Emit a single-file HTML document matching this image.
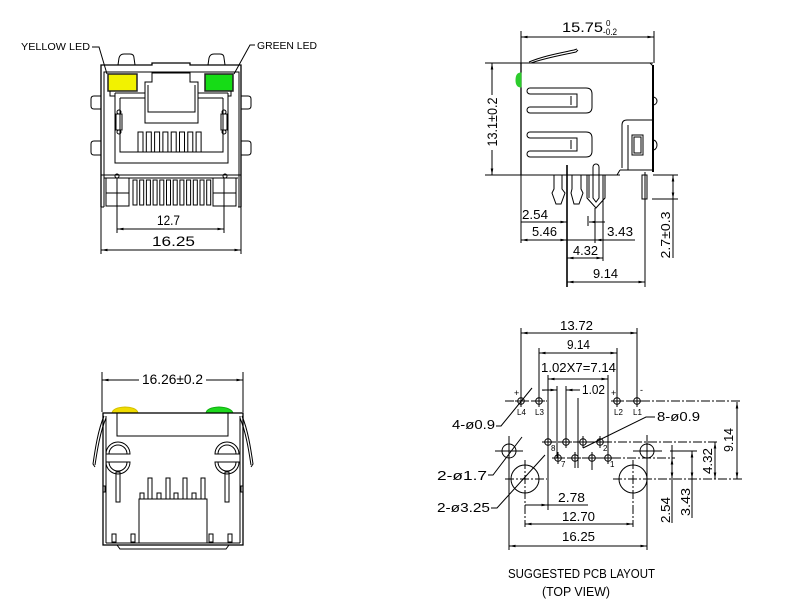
<!DOCTYPE html>
<html><head><meta charset="utf-8"><style>
html,body{margin:0;padding:0;background:#fff;}
svg{display:block}
text{font-family:"Liberation Sans",sans-serif;fill:#000;stroke:none}
</style></head><body>
<svg width="788" height="615" viewBox="0 0 788 615" xmlns="http://www.w3.org/2000/svg">
<defs>
<marker id="a" viewBox="0 0 10 4" refX="10" refY="2" markerWidth="7" markerHeight="2.6" markerUnits="userSpaceOnUse" orient="auto-start-reverse"><path d="M0,0L10,2L0,4z" fill="#000"/></marker>
</defs>
<rect width="788" height="615" fill="#fff"/>

<!-- ============ FRONT VIEW (top-left) ============ -->
<g fill="none" stroke="#000" stroke-width="1">
<polyline points="92,47 99,47 107,74"/>
<polyline points="255,45 250,45 234,74"/>
<path d="M118,65 L119,58 Q120,54 124,54 H130 Q134,54 134,58 L135,65"/>
<path d="M208,65 L209,58 Q210,54 214,54 H220 Q224,54 224,58 L225,65"/>
<path d="M101,207 V65 H152 V63 H190 V65 H241 V207" stroke-width="1.3"/>
<path d="M104,207 V72 H239 V207"/>
<path d="M101,207 H104 M238,207 H241"/>
<path d="M101,96 H94 Q91,96 91,99 V106 Q91,109 94,109 H101"/>
<path d="M101,141 H94 Q91,141 91,144 V152 Q91,155 94,155 H101"/>
<path d="M241,96 H248 Q251,96 251,99 V106 Q251,109 248,109 H241"/>
<path d="M241,141 H248 Q251,141 251,144 V152 Q251,155 248,155 H241"/>
<rect x="108" y="74" width="29" height="17" fill="#f2f200" stroke="#222" stroke-width="1.5"/>
<rect x="205" y="74" width="28" height="17" fill="#16dc16" stroke="#222" stroke-width="1.5"/>
<path d="M110,91 V96 H115 M231,91 V96 H228"/>
<path d="M115,93 V163 H228 V93"/>
<path d="M120,98 V152 H223 V98"/>
<path d="M115,93 H145 M120,98 H145 M198,93 H228 M198,98 H223"/>
<path d="M145,123 V82 H152 V73 H190 V82 H198 V123 Z"/>
<path d="M148,85 V112 H195 V85"/>
<rect x="116" y="114" width="6" height="16"/>
<rect x="221" y="114" width="6" height="16"/>
<circle cx="119" cy="112" r="2"/><circle cx="119" cy="132" r="2"/>
<circle cx="224" cy="112" r="2"/><circle cx="224" cy="132" r="2"/>
<rect x="138" y="132" width="5" height="20"/>
<rect x="146.3" y="132" width="5" height="20"/>
<rect x="154.6" y="132" width="5" height="20"/>
<rect x="162.9" y="132" width="5" height="20"/>
<rect x="171.2" y="132" width="5" height="20"/>
<rect x="179.5" y="132" width="5" height="20"/>
<rect x="187.8" y="132" width="5" height="20"/>
<rect x="196.1" y="132" width="5" height="20"/>
<line x1="101" y1="175" x2="241" y2="175"/>
<line x1="104" y1="178" x2="238" y2="178"/>
<circle cx="117" cy="176" r="2"/><circle cx="225" cy="176" r="2"/>
<rect x="106" y="178" width="23" height="28"/>
<rect x="213" y="178" width="23" height="28"/>
<line x1="106" y1="193" x2="129" y2="193"/>
<line x1="213" y1="193" x2="236" y2="193"/>
<rect x="133" y="180" width="4" height="25"/>
<rect x="139.7" y="180" width="4" height="25"/>
<rect x="146.4" y="180" width="4" height="25"/>
<rect x="153.1" y="180" width="4" height="25"/>
<rect x="159.8" y="180" width="4" height="25"/>
<rect x="166.5" y="180" width="4" height="25"/>
<rect x="173.2" y="180" width="4" height="25"/>
<rect x="179.9" y="180" width="4" height="25"/>
<rect x="186.6" y="180" width="4" height="25"/>
<rect x="193.3" y="180" width="4" height="25"/>
<rect x="200" y="180" width="4" height="25"/>
<rect x="206.7" y="180" width="4" height="25"/>
<line x1="117" y1="178" x2="117" y2="233"/>
<line x1="224" y1="178" x2="224" y2="233"/>
<line x1="117" y1="229" x2="224" y2="229" marker-start="url(#a)" marker-end="url(#a)"/>
<line x1="101" y1="207" x2="101" y2="254"/>
<line x1="241" y1="207" x2="241" y2="254"/>
<line x1="101" y1="250" x2="241" y2="250" marker-start="url(#a)" marker-end="url(#a)"/>
</g>
<text x="21" y="50" font-size="10" textLength="69" lengthAdjust="spacingAndGlyphs">YELLOW LED</text>
<text x="257" y="49" font-size="10" textLength="60" lengthAdjust="spacingAndGlyphs">GREEN LED</text>
<text x="157" y="225" font-size="13.5" textLength="23" lengthAdjust="spacingAndGlyphs">12.7</text>
<text x="152" y="246" font-size="13.5" textLength="43" lengthAdjust="spacingAndGlyphs">16.25</text>

<!-- ============ SIDE VIEW (top-right) ============ -->
<g fill="none" stroke="#000" stroke-width="1">
<line x1="521" y1="31" x2="521" y2="63"/>
<line x1="654" y1="31" x2="654" y2="63"/>
<line x1="521" y1="37" x2="654" y2="37" marker-start="url(#a)" marker-end="url(#a)"/>
<line x1="485" y1="63" x2="653" y2="63"/>
<line x1="485" y1="175" x2="620" y2="175"/>
<line x1="492" y1="63" x2="492" y2="95" marker-start="url(#a)"/>
<line x1="492" y1="150" x2="492" y2="175" marker-end="url(#a)"/>
<path d="M521,63 V175" stroke-width="1.3"/>
<path d="M653,65 V172" stroke-width="2"/>
<path d="M650,63 L653,66"/>
<path d="M531,63 C545,58 562,55 576,52 L578,50"/>
<path d="M529,62 C543,56 560,53 574,50 L577,49"/>
<path d="M521,73 Q516,73 516,80 Q516,87 521,87 Z" fill="#2ccc2c" stroke="#2ccc2c"/>
<path d="M530,88 H586 Q592,88 592,94 V107 Q592,113 586,113 H530 A3,3 0 0 1 530,107 H577 V94 H530 A3,3 0 0 1 530,88 Z"/>
<line x1="571" y1="96" x2="571" y2="105"/>
<path d="M530,132 H586 Q592,132 592,138 V151 Q592,157 586,157 H530 A3,3 0 0 1 530,151 H577 V138 H530 A3,3 0 0 1 530,132 Z"/>
<line x1="571" y1="140" x2="571" y2="149"/>
<path d="M652,120 H627 Q622,120 622,125 V168"/>
<path d="M628,125 V170"/>
<path d="M620,170 H652"/>
<path d="M617,175 L620,170"/>
<rect x="632" y="135" width="11" height="20"/>
<rect x="634" y="137" width="7" height="16"/>
<path d="M653,97 A4,4 0 0 1 653,105"/>
<path d="M653,140 A4,5 0 0 1 653,150"/>
<path d="M554,175 V189 L552,193 L556,204 H561 L565,193 L562,189 V175"/>
<path d="M572,175 V189 L571,193 L574,204 H579 L583,193 L581,189 V175"/>
<path d="M587,175 V198 L596,208 L605,198 V175"/>
<path d="M589,175 V198 M603,175 V198"/>
<path d="M593,198 V167 A3,3 0 0 1 599,167 V198 L596,202 Z"/>
<rect x="642" y="175" width="5" height="24"/>
<line x1="567" y1="165" x2="567" y2="287" stroke-width="1.6"/>
<line x1="645" y1="172" x2="645" y2="287"/>
<line x1="521" y1="175" x2="521" y2="243"/>
<line x1="603" y1="177" x2="603" y2="261"/>
<line x1="595" y1="208" x2="595" y2="243"/>
<line x1="588" y1="216" x2="588" y2="226"/>
<line x1="521" y1="222" x2="567" y2="222" marker-end="url(#a)"/>
<line x1="605" y1="222" x2="589" y2="222" marker-end="url(#a)"/>
<line x1="521" y1="240" x2="635" y2="240"/>
<line x1="530" y1="240" x2="521" y2="240" marker-end="url(#a)"/>
<line x1="558" y1="240" x2="567" y2="240" marker-end="url(#a)"/>
<line x1="605" y1="240" x2="595" y2="240" marker-end="url(#a)"/>
<line x1="567" y1="258" x2="603" y2="258" marker-start="url(#a)" marker-end="url(#a)"/>
<line x1="567" y1="282" x2="645" y2="282" marker-start="url(#a)" marker-end="url(#a)"/>
<line x1="653" y1="175" x2="678" y2="175"/>
<line x1="652" y1="199" x2="678" y2="199"/>
<line x1="673" y1="187" x2="673" y2="175" marker-end="url(#a)"/>
<line x1="673" y1="187" x2="673" y2="199" marker-end="url(#a)"/>
<line x1="673" y1="199" x2="673" y2="258"/>
</g>
<text x="562" y="32" font-size="13.5" textLength="41" lengthAdjust="spacingAndGlyphs">15.75</text>
<text x="606" y="26" font-size="8">0</text>
<text x="603" y="35" font-size="9" textLength="14" lengthAdjust="spacingAndGlyphs">-0.2</text>
<text transform="translate(497,122) rotate(-90)" text-anchor="middle" font-size="13.5" textLength="49" lengthAdjust="spacingAndGlyphs">13.1±0.2</text>
<text x="522" y="219" font-size="13" textLength="26" lengthAdjust="spacingAndGlyphs">2.54</text>
<text x="532" y="236" font-size="13" textLength="25" lengthAdjust="spacingAndGlyphs">5.46</text>
<text x="607" y="236" font-size="13" textLength="26" lengthAdjust="spacingAndGlyphs">3.43</text>
<text x="573" y="255" font-size="13" textLength="25" lengthAdjust="spacingAndGlyphs">4.32</text>
<text x="593" y="278" font-size="13" textLength="25" lengthAdjust="spacingAndGlyphs">9.14</text>
<text transform="translate(670,235) rotate(-90)" text-anchor="middle" font-size="13" textLength="47" lengthAdjust="spacingAndGlyphs">2.7±0.3</text>

<!-- ============ REAR VIEW (bottom-left) ============ -->
<g fill="none" stroke="#000" stroke-width="1">
<line x1="102" y1="372" x2="102" y2="412"/>
<line x1="243" y1="372" x2="243" y2="412"/>
<line x1="102" y1="380" x2="139" y2="380" marker-start="url(#a)"/>
<line x1="206" y1="380" x2="243" y2="380" marker-end="url(#a)"/>
<path d="M112,413 Q113,407.5 125,407 Q137,407.5 138,413 Z" fill="#f0dc00" stroke="#d4c000"/>
<path d="M206,413 Q207,407.5 219,407 Q231,407.5 233,413 Z" fill="#1ed81e" stroke="#10b010"/>
<rect x="103" y="413" width="140" height="132" stroke-width="1.3"/>
<path d="M106,416 V543 M240,416 V543"/>
<rect x="117" y="413" width="111" height="23"/>
<path d="M104,416 C98,430 95,450 93,464 L95,467"/>
<path d="M106,418 C100,432 97,452 95,465"/>
<path d="M242,416 C248,430 251,450 253,464 L251,467"/>
<path d="M240,418 C246,432 249,452 251,465"/>
<path d="M106,454 A12,12 0 0 1 130,454 Z"/>
<path d="M109,454 A9,9 0 0 1 127,454"/>
<path d="M106,462 H130 A12,12 0 0 1 106,462 Z"/>
<path d="M109,462 A9,9 0 0 0 127,462"/>
<rect x="116" y="472" width="4" height="30"/>
<path d="M215,454 A12,12 0 0 1 239,454 Z"/>
<path d="M218,454 A9,9 0 0 1 236,454"/>
<path d="M215,462 H239 A12,12 0 0 1 215,462 Z"/>
<path d="M218,462 A9,9 0 0 0 236,462"/>
<rect x="225" y="472" width="4" height="30"/>
<rect x="148" y="478" width="4" height="21"/>
<rect x="166" y="478" width="4" height="21"/>
<rect x="183" y="478" width="4" height="21"/>
<rect x="201" y="478" width="4" height="21"/>
<rect x="140" y="493" width="4" height="6"/>
<rect x="157" y="493" width="4" height="6"/>
<rect x="174" y="493" width="4" height="6"/>
<rect x="192" y="493" width="4" height="6"/>
<rect x="139" y="499" width="68" height="44"/>
<rect x="112" y="534" width="4" height="8"/>
<rect x="131" y="534" width="4" height="8"/>
<rect x="209" y="534" width="4" height="8"/>
<rect x="228" y="534" width="4" height="8"/>
<line x1="106" y1="543" x2="240" y2="543"/>
<path d="M117,545 L120,549 H226 L229,545"/>
<path d="M103,486 h2 v6 h-2 M243,486 h-2 v6 h2"/>
</g>
<text x="142" y="384" font-size="13.5" textLength="61" lengthAdjust="spacingAndGlyphs">16.26±0.2</text>

<!-- ============ PCB LAYOUT (bottom-right) ============ -->
<g fill="none" stroke="#000" stroke-width="1">
<line x1="521" y1="328" x2="521" y2="401"/>
<line x1="637" y1="328" x2="637" y2="401"/>
<line x1="521" y1="333" x2="637" y2="333" marker-start="url(#a)" marker-end="url(#a)"/>
<line x1="539" y1="348" x2="539" y2="401"/>
<line x1="617" y1="348" x2="617" y2="401"/>
<line x1="539" y1="353" x2="617" y2="353" marker-start="url(#a)" marker-end="url(#a)"/>
<line x1="548" y1="375" x2="548" y2="510"/>
<line x1="608" y1="375" x2="608" y2="458"/>
<line x1="548" y1="379" x2="608" y2="379" marker-start="url(#a)" marker-end="url(#a)"/>
<line x1="557" y1="386" x2="557" y2="458"/>
<line x1="566" y1="386" x2="566" y2="442"/>
<line x1="578" y1="398" x2="578" y2="468"/>
<line x1="542" y1="390" x2="557" y2="390" marker-end="url(#a)"/>
<line x1="580" y1="390" x2="566" y2="390" marker-end="url(#a)"/>
<line x1="575" y1="458" x2="575" y2="468"/>
<line x1="592" y1="458" x2="592" y2="470"/>
<g stroke-dasharray="9,2,2,2">
<line x1="505" y1="401" x2="547" y2="401"/>
<line x1="611" y1="401" x2="742" y2="401"/>
<line x1="543" y1="442" x2="718" y2="442"/>
<line x1="552" y1="458" x2="675" y2="458"/>
<line x1="505" y1="479" x2="547" y2="479"/>
<line x1="613" y1="479" x2="742" y2="479"/>
<line x1="525" y1="460" x2="525" y2="527"/>
<line x1="633" y1="460" x2="633" y2="527"/>
</g>
<line x1="509" y1="436" x2="509" y2="550"/>
<line x1="495" y1="451" x2="523" y2="451"/>
<line x1="647" y1="435" x2="647" y2="550"/>
<line x1="633" y1="451" x2="662" y2="451"/>
<line x1="670" y1="451" x2="697" y2="451"/>
<circle cx="509" cy="451" r="7"/>
<circle cx="647" cy="451" r="7"/>
<circle cx="525" cy="479" r="14"/>
<circle cx="633" cy="479" r="14"/>
<g>
<circle cx="521" cy="401" r="3.3"/><path d="M515,401 h12 M521,395 v12"/>
<circle cx="539" cy="401" r="3.3"/><path d="M533,401 h12 M539,395 v12"/>
<circle cx="617" cy="401" r="3.3"/><path d="M611,401 h12 M617,395 v12"/>
<circle cx="637" cy="401" r="3.3"/><path d="M631,401 h12 M637,395 v12"/>
<circle cx="548" cy="442" r="3.3"/><path d="M542,442 h12 M548,436 v12"/>
<circle cx="566" cy="442" r="3.3"/><path d="M560,442 h12 M566,436 v12"/>
<circle cx="583" cy="442" r="3.3"/><path d="M577,442 h12 M583,436 v12"/>
<circle cx="600" cy="442" r="3.3"/><path d="M594,442 h12 M600,436 v12"/>
<circle cx="558" cy="458" r="3.3"/><path d="M552,458 h12 M558,452 v12"/>
<circle cx="575" cy="458" r="3.3"/><path d="M569,458 h12 M575,452 v12"/>
<circle cx="592" cy="458" r="3.3"/><path d="M586,458 h12 M592,452 v12"/>
<circle cx="608" cy="458" r="3.3"/><path d="M602,458 h12 M608,452 v12"/>
</g>
<polyline points="496,426 501,426 532,388"/>
<polyline points="655,417 646,417 583,448"/>
<polyline points="488,475 493,475 522,437"/>
<polyline points="491,508 497,508 545,455"/>
<line x1="525" y1="505" x2="548" y2="505" marker-end="url(#a)"/>
<line x1="548" y1="505" x2="588" y2="505"/>
<line x1="525" y1="524" x2="633" y2="524" marker-start="url(#a)" marker-end="url(#a)"/>
<line x1="509" y1="546" x2="647" y2="546" marker-start="url(#a)" marker-end="url(#a)"/>
<line x1="737" y1="402" x2="737" y2="479" marker-start="url(#a)" marker-end="url(#a)"/>
<line x1="715" y1="442" x2="715" y2="479" marker-start="url(#a)" marker-end="url(#a)"/>
<line x1="692" y1="451" x2="692" y2="479" marker-start="url(#a)" marker-end="url(#a)"/>
<line x1="692" y1="479" x2="692" y2="518"/>
<line x1="672" y1="445" x2="672" y2="458" />
<line x1="672" y1="458" x2="672" y2="479" marker-start="url(#a)" marker-end="url(#a)"/>
<line x1="672" y1="479" x2="672" y2="523"/>
</g>
<text x="560" y="330" font-size="12.5" textLength="33" lengthAdjust="spacingAndGlyphs">13.72</text>
<text x="567" y="349" font-size="12.5" textLength="23" lengthAdjust="spacingAndGlyphs">9.14</text>
<text x="541" y="372" font-size="12.5" textLength="75" lengthAdjust="spacingAndGlyphs">1.02X7=7.14</text>
<text x="582" y="394" font-size="12.5" textLength="23" lengthAdjust="spacingAndGlyphs">1.02</text>
<text x="514" y="396" font-size="9">+</text>
<text x="542" y="393" font-size="9">-</text>
<text x="611" y="396" font-size="9">+</text>
<text x="640" y="393" font-size="9">-</text>
<text x="517" y="415" font-size="8">L4</text>
<text x="535" y="415" font-size="8">L3</text>
<text x="614" y="415" font-size="8">L2</text>
<text x="633" y="415" font-size="8">L1</text>
<text x="551" y="451" font-size="8">8</text>
<text x="561" y="467" font-size="8">7</text>
<text x="603" y="451" font-size="8">2</text>
<text x="610" y="467" font-size="8">1</text>
<text x="452" y="429" font-size="13" textLength="43" lengthAdjust="spacingAndGlyphs">4-ø0.9</text>
<text x="657" y="421" font-size="13" textLength="43" lengthAdjust="spacingAndGlyphs">8-ø0.9</text>
<text x="437" y="480" font-size="13" textLength="50" lengthAdjust="spacingAndGlyphs">2-ø1.7</text>
<text x="437" y="512" font-size="13" textLength="53" lengthAdjust="spacingAndGlyphs">2-ø3.25</text>
<text x="558" y="502" font-size="13" textLength="27" lengthAdjust="spacingAndGlyphs">2.78</text>
<text x="562" y="521" font-size="13" textLength="33" lengthAdjust="spacingAndGlyphs">12.70</text>
<text x="562" y="541" font-size="13" textLength="33" lengthAdjust="spacingAndGlyphs">16.25</text>
<text transform="translate(733,440) rotate(-90)" text-anchor="middle" font-size="12.5" textLength="24" lengthAdjust="spacingAndGlyphs">9.14</text>
<text transform="translate(712,461) rotate(-90)" text-anchor="middle" font-size="12.5" textLength="26" lengthAdjust="spacingAndGlyphs">4.32</text>
<text transform="translate(690,502) rotate(-90)" text-anchor="middle" font-size="12.5" textLength="28" lengthAdjust="spacingAndGlyphs">3.43</text>
<text transform="translate(670,510) rotate(-90)" text-anchor="middle" font-size="12.5" textLength="26" lengthAdjust="spacingAndGlyphs">2.54</text>
<text x="508" y="578" font-size="13" textLength="147" lengthAdjust="spacingAndGlyphs">SUGGESTED PCB LAYOUT</text>
<text x="542" y="596" font-size="13" textLength="68" lengthAdjust="spacingAndGlyphs">(TOP VIEW)</text>
</svg>
</body></html>
